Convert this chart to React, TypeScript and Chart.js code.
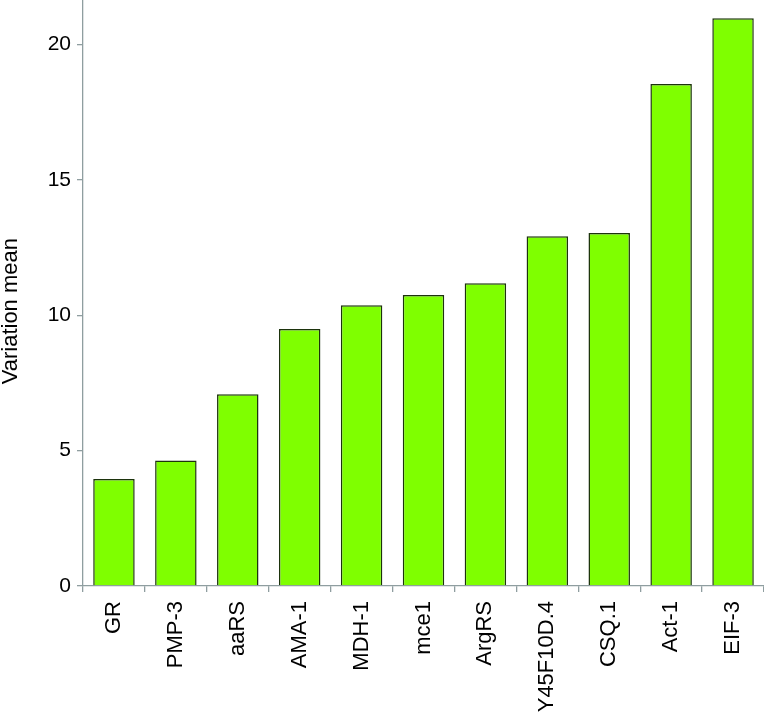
import React, { useEffect, useRef } from "react";
import { Chart, registerables } from "chart.js";

Chart.register(...registerables);

const categories = ["GR", "PMP-3", "aaRS", "AMA-1", "MDH-1", "mce1", "ArgRS", "Y45F10D.4", "CSQ.1", "Act-1", "EIF-3"];
const variationMean = [3.95, 4.63, 7.08, 9.49, 10.37, 10.75, 11.18, 12.92, 13.04, 18.54, 20.97];
const yTicks = [0, 5, 10, 15, 20];
const yMax = 21.64;
const yTitle = "Variation mean";

const axisColor = "#8f9ea0";
const family = "'Liberation Sans', Arial, sans-serif";

const yTitlePlugin = {
  id: "yTitlePlugin",
  afterDraw(chart: any) {
    const ctx = chart.ctx;
    const area = chart.chartArea;
    ctx.save();
    ctx.font = `22px ${family}`;
    ctx.fillStyle = "#000";
    ctx.textAlign = "center";
    ctx.textBaseline = "alphabetic";
    ctx.translate(17, area.top + (area.bottom - area.top) * 0.531);
    ctx.rotate(-Math.PI / 2);
    ctx.fillText(yTitle, 0, 0);
    ctx.restore();
  },
};

export default function App() {
  const ref = useRef<HTMLCanvasElement | null>(null);
  useEffect(() => {
    if (!ref.current) return;
    const chart = new Chart(ref.current, {
      type: "bar",
      data: {
        labels: categories,
        datasets: [
          {
            data: variationMean,
            backgroundColor: "#7fff00",
            borderColor: "#1c330c",
            borderWidth: 1.5,
            barPercentage: 0.67,
            categoryPercentage: 1,
          },
        ],
      },
      options: {
        responsive: false,
        animation: false,
        layout: { padding: 0 },
        plugins: { legend: { display: false }, tooltip: { enabled: false } },
        scales: {
          x: {
            ticks: { font: { family, size: 22 }, color: "#000", maxRotation: 90, minRotation: 90, padding: 9, autoSkip: false },
            grid: { drawOnChartArea: false, offset: true, tickLength: 6, color: axisColor, lineWidth: 1.3 },
            border: { color: axisColor, width: 1.3 },
            afterFit: (s: any) => {
              s.paddingLeft = 0;
              s.paddingRight = 0;
              s.height = 128;
            },
          },
          y: {
            min: 0,
            max: yMax,
            afterBuildTicks: (s: any) => {
              s.ticks = yTicks.map((v) => ({ value: v }));
            },
            ticks: { font: { family, size: 21 }, color: "#000", padding: 6, includeBounds: false },
            grid: { drawOnChartArea: false, tickLength: 6, color: axisColor, lineWidth: 1.3 },
            border: { color: axisColor, width: 1.3 },
            title: { display: false },
            afterFit: (s: any) => {
              s.paddingTop = 0;
              s.paddingBottom = 0;
              s.width = 83;
            },
          },
        },
      },
      plugins: [yTitlePlugin],
    });
    return () => chart.destroy();
  }, []);
  return (
    <div style={{ position: "absolute", left: 0, top: 0, width: 764, height: 714, background: "#fff" }}>
      <canvas ref={ref} width={764} height={714} />
    </div>
  );
}
